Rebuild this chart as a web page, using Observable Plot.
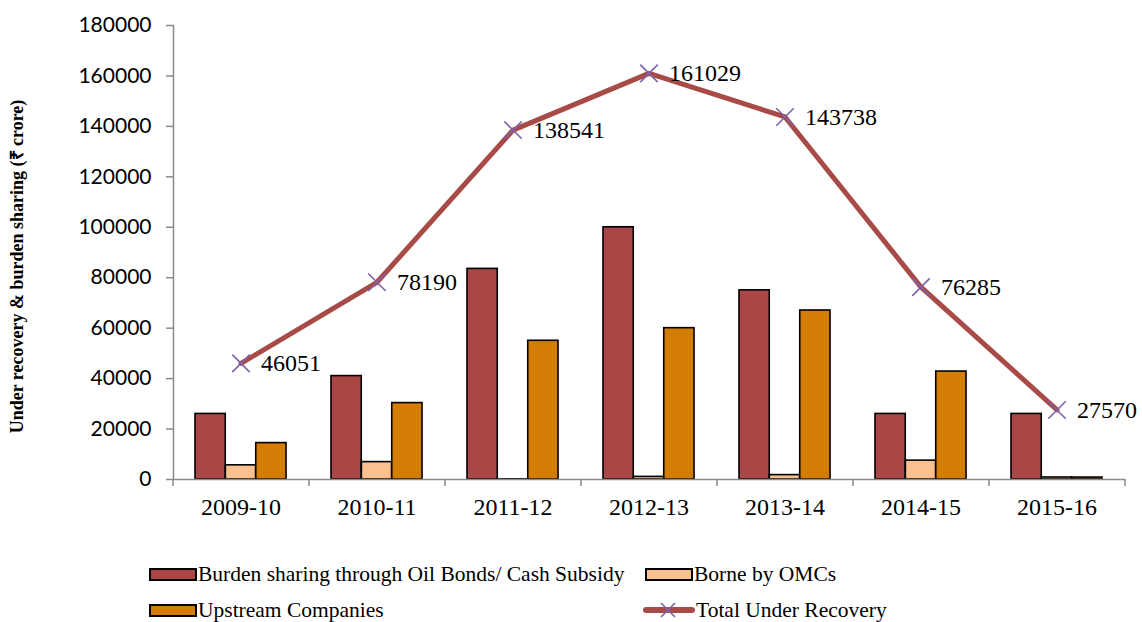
<!DOCTYPE html>
<html>
<head>
<meta charset="utf-8">
<script src="https://cdn.jsdelivr.net/npm/d3@7"></script>
<script src="https://cdn.jsdelivr.net/npm/@observablehq/plot@0.6"></script>
<style>
  html, body { margin: 0; padding: 0; background: #fff; }
  #wrap { position: relative; width: 1142px; height: 622px; overflow: hidden; }
  #legend { position: absolute; left: 0; top: 0; width: 1142px; height: 622px; pointer-events: none; }
  .item { position: absolute; display: flex; align-items: center; font-family: "Liberation Serif", "Times New Roman", serif; font-size: 21.5px; color: #000; white-space: nowrap; }
  .sw { width: 44px; height: 9px; border: 2px solid #000; margin-right: 1px; }
</style>
</head>
<body>
<div id="wrap">
  <div id="chart"></div>
  <div id="legend"></div>
</div>
<script>
const years = ["2009-10", "2010-11", "2011-12", "2012-13", "2013-14", "2014-15", "2015-16"];
const oilBonds = [26000, 41000, 83500, 100000, 75000, 26000, 26000];
const omcs = [5621, 6893, 41, 1029, 1738, 7485, 800];
const upstream = [14430, 30297, 55000, 60000, 67000, 42800, 770];
const totalUR = [46051, 78190, 138541, 161029, 143738, 76285, 27570];
const yTicks = [0, 20000, 40000, 60000, 80000, 100000, 120000, 140000, 160000, 180000];

const seriesNames = ["Burden sharing through Oil Bonds/ Cash Subsidy", "Borne by OMCs", "Upstream Companies", "Total Under Recovery"];
const yTitle = "Under recovery & burden sharing (\u20B9 crore)";
const colors = { oil: "#AA4643", omc: "#FAC090", up: "#D47D05", line: "#A84A46", mark: "#7E62A8" };

const rows = years.map((year, i) => ({ year, oil: oilBonds[i], omc: omcs[i], up: upstream[i], total: totalUR[i] }));

const W = 1142, H = 530;
const mL = 173, mR = 17, mT = 25, mB = 51;
const padIn = 0.33, padOut = 0.165;
const step = (W - mL - mR) / (years.length - padIn + 2 * padOut);
const bw = step * (1 - padIn);
const third = bw / 3;
const gray = "#8A8A8A";
const serif = "'Liberation Serif', 'Times New Roman', serif";

const barStyle = { stroke: "#000", strokeWidth: 1.6 };

const chart = Plot.plot({
  width: W, height: H,
  marginLeft: mL, marginRight: mR, marginTop: mT, marginBottom: mB,
  x: { domain: years, paddingInner: padIn, paddingOuter: padOut, axis: null },
  y: { domain: [0, 180000], axis: null },
  marks: [
    Plot.barY(rows, { x: "year", y: "oil", fill: colors.oil, insetRight: 2 * third, ...barStyle }),
    Plot.barY(rows, { x: "year", y: "omc", fill: colors.omc, insetLeft: third, insetRight: third, ...barStyle }),
    Plot.barY(rows, { x: "year", y: "up", fill: colors.up, insetLeft: 2 * third, ...barStyle }),
    // axes
    Plot.frame({ anchor: "left", stroke: gray, strokeWidth: 1.5 }),
    Plot.ruleY([0], { stroke: gray, strokeWidth: 1.5 }),
    Plot.axisY({ ticks: yTicks, tickSize: 7, tickPadding: 15, tickFormat: d3.format("d"), stroke: gray, strokeWidth: 1.5, fill: "#000", fontSize: 21, fontFamily: "Lato, 'Liberation Sans', sans-serif", label: null }),
    Plot.axisX({ tickSize: 7, text: null, dx: -step / 2, stroke: gray, strokeWidth: 1.5, label: null }),
    Plot.axisX({ ticks: [years[years.length - 1]], tickSize: 7, text: null, dx: step / 2, stroke: gray, strokeWidth: 1.5, label: null }),
    Plot.axisX({ tickSize: 0, tickPadding: 18, fill: "#000", fontSize: 24, fontFamily: serif, label: null }),
    // total line
    Plot.lineY(rows, { x: "year", y: "total", stroke: colors.line, strokeWidth: 5 }),
    Plot.dot(rows, { x: "year", y: "total", symbol: "times", r: 8, stroke: colors.mark, strokeWidth: 1.6 }),
    Plot.text(rows, { x: "year", y: "total", text: d => String(d.total), textAnchor: "start", dx: 20, fontSize: 24, fontFamily: serif, fill: "#000" }),
    // y title
    Plot.text([yTitle], { frameAnchor: "left", text: d => d, textAnchor: "middle", rotate: -90, dx: -156, dy: 14, fontSize: 18, fontWeight: "bold", fontFamily: serif, fill: "#000" })
  ]
});
document.getElementById("chart").appendChild(chart);

// legend
const legend = document.getElementById("legend");
const items = [
  { name: seriesNames[0], type: "bar", color: colors.oil, left: 149, top: 574 },
  { name: seriesNames[1], type: "bar", color: colors.omc, left: 645, top: 574 },
  { name: seriesNames[2], type: "bar", color: colors.up, left: 149, top: 610 },
  { name: seriesNames[3], type: "line", color: colors.line, left: 643, top: 610 }
];
items.forEach(it => {
  const d = document.createElement("div");
  d.className = "item";
  d.style.left = it.left + "px";
  d.style.top = (it.top - 14) + "px";
  d.style.height = "28px";
  if (it.type === "bar") {
    const s = document.createElement("div");
    s.className = "sw";
    s.style.background = it.color;
    d.appendChild(s);
  } else {
    const s = document.createElementNS("http://www.w3.org/2000/svg", "svg");
    s.setAttribute("width", 52); s.setAttribute("height", 20);
    s.style.marginRight = "1px";
    s.innerHTML = `<line x1="3" y1="10" x2="49" y2="10" stroke="${it.color}" stroke-width="6" stroke-linecap="round"/>` +
      `<path d="M18,3 L32,17 M32,3 L18,17" stroke="${colors.mark}" stroke-width="1.6"/>`;
    d.appendChild(s);
  }
  const t = document.createElement("span");
  t.textContent = it.name;
  d.appendChild(t);
  legend.appendChild(d);
});
</script>
</body>
</html>
